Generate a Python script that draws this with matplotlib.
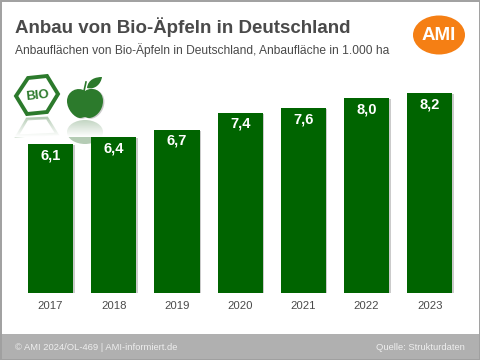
import matplotlib
matplotlib.use("Agg")
import matplotlib.pyplot as plt
import matplotlib.patheffects as pe
from matplotlib.patches import Ellipse, Polygon, PathPatch, Rectangle
from matplotlib.path import Path
import numpy as np

plt.rcParams['font.family'] = ['Liberation Sans', 'DejaVu Sans']

years = ["2017", "2018", "2019", "2020", "2021", "2022", "2023"]
flaeche = [6.1, 6.4, 6.7, 7.4, 7.6, 8.0, 8.2]
labels = ["6,1", "6,4", "6,7", "7,4", "7,6", "8,0", "8,2"]

title = "Anbau von Bio-Äpfeln in Deutschland"
subtitle = "Anbauflächen von Bio-Äpfeln in Deutschland, Anbaufläche in 1.000 ha"
footer_left = "© AMI 2024/OL-469 | AMI-informiert.de"
footer_right = "Quelle: Strukturdaten"

GREEN = "#006400"
LOGO_GREEN = "#2c7a2c"
TEXT = "#4a4a4a"
GREY = "#b0b0b0"

fig = plt.figure(figsize=(4.8, 3.6), dpi=100, facecolor="white")

# Hintergrund-Achse in Pixeln (Rahmen, Logos, Fusszeile)
bg = fig.add_axes([0, 0, 1, 1], zorder=0)
bg.axis("off")

bg.add_patch(Rectangle((0, 334), 480, 26, fc=GREY, ec="none"))
bg.add_patch(Rectangle((0.5, 0.5), 479, 359, fc="none", ec="#a0a0a0", lw=1.4))
bg.text(15, 347.5, footer_left, color="#eeeeee", fontsize=6.75, va="center")
bg.text(465, 347.5, footer_right, color="#eeeeee", fontsize=6.75, va="center", ha="right")

bg.text(15, 27, title, color=TEXT, fontsize=13.5, fontweight="bold", va="center")
bg.text(15, 50, subtitle, color=TEXT, fontsize=8.65, va="center")

# AMI Logo
bg.add_patch(Ellipse((439, 35), 52, 39, fc="#f57f14", ec="none"))
bg.text(439, 35.5, "AMI", color="white", fontsize=13.5, fontweight="bold", ha="center", va="center")

shadow = [pe.SimplePatchShadow(offset=(1, -0.6), shadow_rgbFace="#555555", alpha=0.3), pe.Normal()]

# Bio-Siegel
hexagon = [(16, 96), (28, 78), (47, 76), (58, 94), (47, 112), (27, 114)]
bg.add_patch(Polygon(hexagon, closed=True, fc="white", ec=LOGO_GREEN, lw=2.8, path_effects=shadow))
bg.text(37.5, 96, "BIO", color=LOGO_GREEN, fontsize=9.5, fontweight="bold", ha="center", va="center", rotation=6)

# Apfel
apple_verts = [(85, 91), (92, 86), (103, 90), (103, 101), (103, 111), (95, 118), (89, 118),
               (87, 118), (86, 117), (85, 117), (84, 117), (82, 118), (80, 118), (75, 118),
               (67, 110), (67, 101), (67, 91), (78, 86), (85, 91)]
apple_codes = [Path.MOVETO] + [Path.CURVE4] * 18
bg.add_patch(PathPatch(Path(apple_verts, apple_codes), fc=LOGO_GREEN, ec="none", path_effects=shadow))
leaf_verts = [(87, 88), (88, 79), (96, 77), (102, 77), (101, 84), (95, 90), (87, 88)]
leaf_codes = [Path.MOVETO] + [Path.CURVE4] * 6
bg.add_patch(PathPatch(Path(leaf_verts, leaf_codes), fc=LOGO_GREEN, ec="none"))
bg.plot([84, 86], [91, 82], color=LOGO_GREEN, lw=1.2)

# Spiegelung unter den Logos
bg.add_patch(Polygon([(17, 136), (27, 119), (47, 118), (57, 134)], closed=True, fc="none", ec="#b5ccb5", lw=2))
bg.add_patch(Ellipse((85, 132), 36, 24, fc="#b5ccb5", ec="none"))
fade = np.zeros((40, 2, 4))
fade[..., :3] = 1
fade[..., 3] = np.linspace(0.15, 1, 40)[:, None]
bg.imshow(fade, extent=(10, 110, 137, 119), aspect="auto", zorder=3)
bg.set_xlim(0, 480)
bg.set_ylim(360, 0)

# Balken
ax = fig.add_axes([19 / 480, (360 - 293) / 360, 442.4 / 480, 213 / 360], zorder=1)
ax.patch.set_alpha(0)
bars = ax.bar(years, flaeche, width=0.715, color=GREEN, path_effects=shadow)
ax.set_xlim(-0.5, 6.5)
ax.set_ylim(0, 213 / 24.35)
ax.set_yticks([])
for side in ax.spines.values():
    side.set_visible(False)
ax.tick_params(axis="x", length=0, pad=5.5, labelsize=8.2, labelcolor=TEXT)
for b, lab in zip(bars, labels):
    ax.annotate(lab, (b.get_x() + b.get_width() / 2, b.get_height()), xytext=(0, -8),
                textcoords="offset points", ha="center", va="center",
                color="white", fontsize=10.5, fontweight="bold")

fig.savefig("out.png", dpi=100)
